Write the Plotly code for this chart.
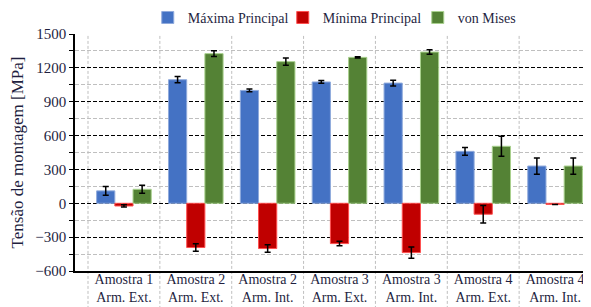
import plotly.graph_objects as go

categories = ["Amostra 1<br>Arm. Ext.", "Amostra 2<br>Arm. Ext.", "Amostra 2<br>Arm. Int.",
              "Amostra 3<br>Arm. Ext.", "Amostra 3<br>Arm. Int.", "Amostra 4<br>Arm. Ext.",
              "Amostra 4<br>Arm. Int."]
maxima = [110, 1095, 1000, 1075, 1065, 460, 330]
maxima_err = [38, 28, 12, 12, 25, 35, 72]
minima = [-24, -392, -401, -357, -437, -97, -10]
minima_err = [10, 33, 33, 20, 50, 78, 0]
mises = [124, 1326, 1255, 1293, 1340, 505, 330]
mises_err = [35, 25, 33, 5, 20, 88, 72]

series = [
    ("Máxima Principal", maxima, maxima_err, "#4472C4", "#8FAADC"),
    ("Mínima Principal", minima, minima_err, "#C00000", "#FF5050"),
    ("von Mises", mises, mises_err, "#548235", "#A9D18E"),
]

font_family = "Times New Roman, Liberation Serif, DejaVu Serif, serif"
txt = "#1F1F3F"

fig = go.Figure()
for name, vals, errs, color, edge in series:
    fig.add_trace(go.Bar(
        name=name, x=categories, y=vals,
        marker=dict(color=color, line=dict(color=edge, width=1)),
        error_y=dict(type="data", array=errs, visible=True, color="black",
                     thickness=1.5, width=3),
    ))

shapes = []
for i in range(len(categories)):
    shapes.append(dict(type="line", xref="x", yref="paper", x0=i - 0.5, x1=i - 0.5,
                       y0=-0.16, y1=1, layer="below",
                       line=dict(color="#BFBFBF", width=1, dash="3px,2px")))

fig.update_layout(
    width=583, height=299,
    margin=dict(l=67, r=0, t=26, b=36, autoexpand=False),
    paper_bgcolor="white", plot_bgcolor="white",
    barmode="group", bargap=0.24, bargroupgap=0,
    font=dict(family=font_family, size=14, color=txt),
    legend=dict(orientation="h", x=0.141, y=1.068, xanchor="left", yanchor="middle",
                font=dict(family=font_family, size=14, color=txt), entrywidth=90, itemwidth=30,
                traceorder="normal", bgcolor="rgba(0,0,0,0)"),
    shapes=shapes,
    showlegend=True,
)
fig.update_xaxes(
    range=[-0.681, 6.5], showgrid=False, showline=True, linecolor="black", linewidth=2,
    ticks="", ticklabelstandoff=-6,
    tickfont=dict(family=font_family, size=14, color=txt), fixedrange=True,
)
fig.update_yaxes(
    range=[-600, 1500], tickvals=[-600, -300, 0, 300, 600, 900, 1200, 1500],
    showgrid=True, gridcolor="black", griddash="4px,2px", gridwidth=1,
    minor=dict(dtick=150, tick0=0, showgrid=True, gridcolor="#BFBFBF", griddash="4px,2px",
               ticks="outside", ticklen=4, tickcolor="black"),
    ticks="outside", ticklen=4, tickcolor="black",
    showline=True, linecolor="black", linewidth=1.5, zeroline=False,
    tickfont=dict(family=font_family, size=15, color=txt),
    title=dict(text="Tensão de montagem [MPa]", font=dict(family=font_family, size=17, color=txt), standoff=12),
)

fig.write_html("out.html")
